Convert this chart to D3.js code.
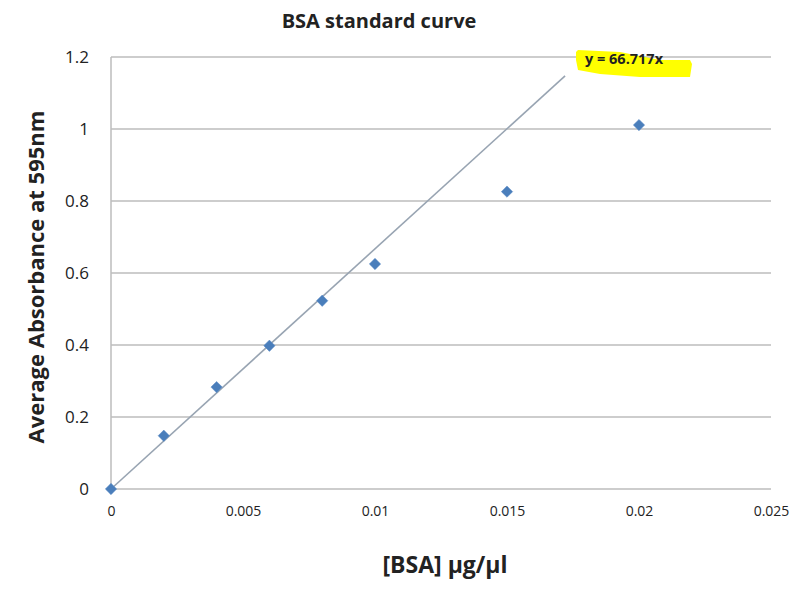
<!DOCTYPE html>
<html><head><meta charset="utf-8">
<script src="https://cdn.jsdelivr.net/npm/d3@7"></script>
<style>body{margin:0;background:#fff}svg{display:block}text{font-family:"Open Sans","Liberation Sans",sans-serif}</style>
</head><body><div id="c"></div>
<script>
const concentration = [0, 0.002, 0.004, 0.006, 0.008, 0.01, 0.015, 0.02];
const absorbance = [0, 0.148, 0.283, 0.398, 0.523, 0.625, 0.826, 1.011];
const xTicks = [0, 0.005, 0.01, 0.015, 0.02, 0.025];
const yTicks = [0, 0.2, 0.4, 0.6, 0.8, 1, 1.2];
const slope = 66.717;
const trendEnd = 0.0172;
const equationText = "y = 66.717x";

const W = 800, H = 590;
const m = {left: 111, right: 29, top: 57, bottom: 101};
const svg = d3.select("#c").append("svg").attr("width", W).attr("height", H);
const x = d3.scaleLinear().domain([0, 0.025]).range([m.left, W - m.right]);
const y = d3.scaleLinear().domain([0, 1.2]).range([H - m.bottom, m.top]);

// gridlines
svg.append("g").selectAll("line").data(yTicks).join("line")
  .attr("x1", x(0)).attr("x2", x(0.025))
  .attr("y1", d => y(d)).attr("y2", d => y(d))
  .attr("stroke", "#bdbdbd").attr("stroke-width", 1.5);
// left axis line
svg.append("line").attr("x1", x(0)).attr("x2", x(0)).attr("y1", y(0)).attr("y2", y(1.2))
  .attr("stroke", "#bdbdbd").attr("stroke-width", 1.5);

// y tick labels
const yAxis = svg.append("g").attr("transform", `translate(${x(0)},0)`)
  .call(d3.axisLeft(y).tickValues(yTicks).tickSize(0).tickPadding(22).tickFormat(d => String(d)));
yAxis.select(".domain").remove();
yAxis.selectAll("text").attr("font-size", 17).attr("fill", "#222").style("font-family", '"Open Sans",sans-serif');

// x tick labels
const xAxis = svg.append("g").attr("transform", `translate(0,${y(0)})`)
  .call(d3.axisBottom(x).tickValues(xTicks).tickSize(0).tickPadding(17).tickFormat(d => String(d)));
xAxis.select(".domain").remove();
xAxis.selectAll("text").attr("font-size", 14).attr("fill", "#222").style("font-family", '"Open Sans",sans-serif');

// trendline
svg.append("line").attr("x1", x(0)).attr("y1", y(0)).attr("x2", x(trendEnd)).attr("y2", y(slope * trendEnd))
  .attr("stroke", "#98a4b2").attr("stroke-width", 1.6);

// markers (square rotated 45deg)
const data = concentration.map((c, i) => ({c, a: absorbance[i]}));
svg.append("g").selectAll("path").data(data).join("path")
  .attr("d", d3.symbol(d3.symbolSquare, 64))
  .attr("transform", d => `translate(${x(d.c)},${y(d.a)}) rotate(45)`)
  .attr("fill", "#4a7ebb").attr("stroke", "#5b8ac5").attr("stroke-width", 0.5);

// equation highlight
svg.append("path")
  .attr("d", "M576,52 L578,50 L620,52 L660,60 L690,60 L692,64 L690,77 L640,77 L600,74 L578,70 L576,60 Z")
  .attr("fill", "#ffff00");
svg.append("text").attr("x", 585).attr("y", 64).attr("font-size", 14.5).attr("font-weight", "bold")
  .attr("fill", "#222").text(equationText);

// titles
svg.append("text").attr("x", 379).attr("y", 28).attr("text-anchor", "middle")
  .attr("font-size", 20).attr("font-weight", "bold").attr("fill", "#222").text("BSA standard curve");
svg.append("text").attr("transform", "translate(44,277) rotate(-90)").attr("text-anchor", "middle")
  .attr("font-size", 22).attr("font-weight", "bold").attr("fill", "#222").text("Average Absorbance at 595nm");
svg.append("text").attr("x", 445).attr("y", 573).attr("text-anchor", "middle")
  .attr("font-size", 23).attr("font-weight", "bold").attr("fill", "#222").text("[BSA] µg/µl");
</script></body></html>
